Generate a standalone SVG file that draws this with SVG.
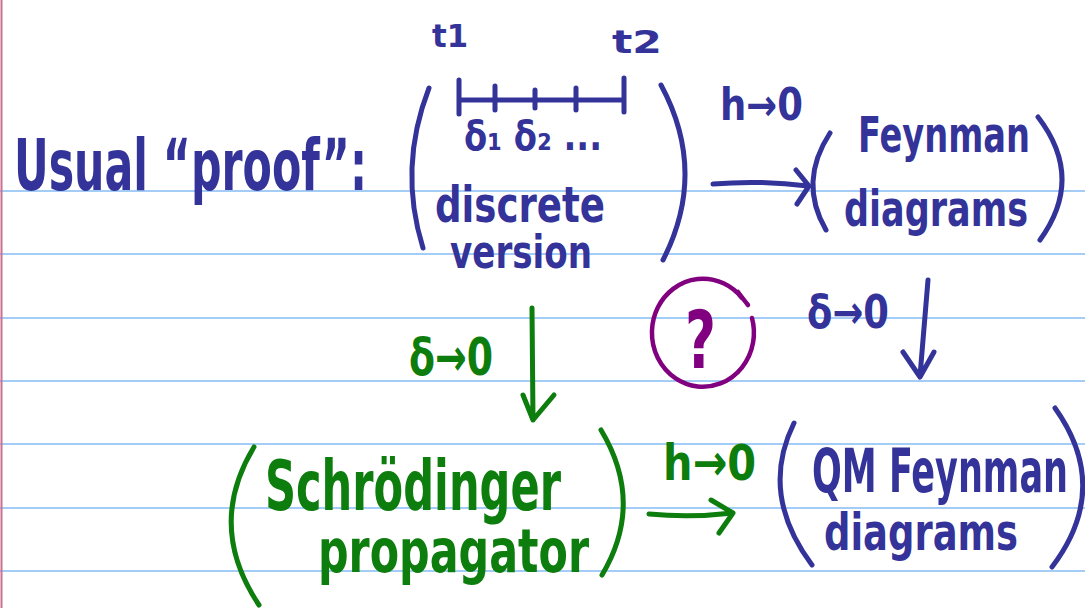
<svg xmlns="http://www.w3.org/2000/svg" width="1085" height="608" viewBox="0 0 1085 608">
<style>
.b{fill:#333399}
.g{fill:#0d7d0d}
.p{fill:#800080}
text{font-family:"DejaVu Sans Condensed","Liberation Sans",sans-serif;font-weight:bold}
.sb{stroke:#333399;fill:none;stroke-width:5;stroke-linecap:round;stroke-linejoin:round}
.sg{stroke:#0d7d0d;fill:none;stroke-width:5;stroke-linecap:round;stroke-linejoin:round}
.rule{stroke:#a3cdf6;stroke-width:2}
</style>
<rect width="1085" height="608" fill="#ffffff"/>
<g id="paper">
<line class="rule" x1="0" y1="191" x2="1085" y2="191"/>
<line class="rule" x1="0" y1="254" x2="1085" y2="254"/>
<line class="rule" x1="0" y1="318" x2="1085" y2="318"/>
<line class="rule" x1="0" y1="381" x2="1085" y2="381"/>
<line class="rule" x1="0" y1="444" x2="1085" y2="444"/>
<line class="rule" x1="0" y1="508" x2="1085" y2="508"/>
<line class="rule" x1="0" y1="571" x2="1085" y2="571"/>
<line x1="1.5" y1="0" x2="1.5" y2="608" stroke="#c8708f" stroke-width="2"/>
</g>
<g id="title">
<text class="b" x="14" y="190" font-size="72" textLength="353" lengthAdjust="spacingAndGlyphs">Usual “proof”:</text>
</g>
<g id="discrete">
<path class="sb" d="M429,88 Q398,168 423,248"/>
<path class="sb" d="M661,85 Q708,172 663,260"/>
<path class="sb" d="M459,80 V114 M624,78 V112 M459,100 H624 M495,86 V110 M535,90 V108 M576,88 V110"/>
<text class="b" x="432" y="47" font-size="32" textLength="36" lengthAdjust="spacingAndGlyphs">t1</text>
<text class="b" x="612" y="53" font-size="32" textLength="50" lengthAdjust="spacingAndGlyphs">t2</text>
<text class="b" x="464" y="150" font-size="40" textLength="138" lengthAdjust="spacingAndGlyphs">δ₁ δ₂ ...</text>
<text class="b" x="435" y="222" font-size="50" textLength="170" lengthAdjust="spacingAndGlyphs">discrete</text>
<text class="b" x="450" y="268" font-size="46" textLength="142" lengthAdjust="spacingAndGlyphs">version</text>
</g>
<g id="feynman">
<path class="sb" d="M830,133 Q798,182 826,230"/>
<path class="sb" d="M1038,117 Q1085,178 1040,240"/>
<text class="b" x="858" y="152" font-size="50" textLength="172" lengthAdjust="spacingAndGlyphs">Feynman</text>
<text class="b" x="844" y="226" font-size="50" textLength="184" lengthAdjust="spacingAndGlyphs">diagrams</text>
</g>
<g id="question">
<path d="M742,298 A51,54 0 1 0 752,318 M738,292 Q744,300 748,305" fill="none" stroke="#800080" stroke-width="4.5" stroke-linecap="round"/>
<text class="p" x="685" y="368" font-size="80" textLength="31" lengthAdjust="spacingAndGlyphs">?</text>
</g>
<g id="schrodinger">
<path class="sg" d="M254,447 Q206,526 259,605"/>
<path class="sg" d="M601,430 Q645,503 602,575"/>
<text class="g" x="265" y="510" font-size="70" textLength="296" lengthAdjust="spacingAndGlyphs">Schrödinger</text>
<text class="g" x="318" y="572" font-size="60" textLength="271" lengthAdjust="spacingAndGlyphs">propagator</text>
</g>
<g id="qm-feynman">
<path class="sb" d="M794,423 Q759,494 812,565"/>
<path class="sb" d="M1055,408 Q1112,488 1052,567"/>
<text class="b" x="812" y="492" font-size="60" textLength="256" lengthAdjust="spacingAndGlyphs">QM Feynman</text>
<text class="b" x="824" y="550" font-size="52" textLength="194" lengthAdjust="spacingAndGlyphs">diagrams</text>
</g>
<g id="connectors">
<path class="sb" d="M713,184 Q760,180 808,186 M796,170 L809,186 L797,204"/>
<text class="b" x="720" y="120" font-size="44" textLength="83" lengthAdjust="spacingAndGlyphs">h→0</text>
<path class="sb" d="M928,280 L920,376 M903,352 L920,377 L934,352"/>
<text class="b" x="807" y="328" font-size="46" textLength="82" lengthAdjust="spacingAndGlyphs">δ→0</text>
<path class="sg" d="M532,308 L533,420 M523,395 L533,420 L554,395"/>
<text class="g" x="409" y="375" font-size="52" textLength="84" lengthAdjust="spacingAndGlyphs">δ→0</text>
<path class="sg" d="M649,514 Q690,518 733,513 M711,500 L733,513 L719,533"/>
<text class="g" x="663" y="480" font-size="50" textLength="93" lengthAdjust="spacingAndGlyphs">h→0</text>
</g>
</svg>
